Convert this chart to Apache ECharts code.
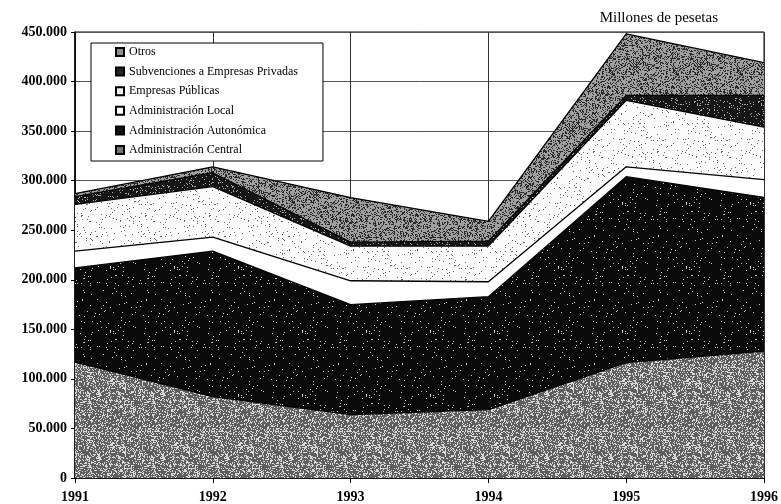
<!DOCTYPE html>
<html>
<head>
<meta charset="utf-8">
<script src="https://cdn.jsdelivr.net/npm/echarts@6/dist/echarts.min.js"></script>
<style>
  html, body { margin: 0; padding: 0; background: #fff; }
  #chart { width: 781px; height: 504px; }
</style>
</head>
<body>
<div id="chart"></div>
<script>
// años y valores (millones de pesetas), apilados
const years = ['1991', '1992', '1993', '1994', '1995', '1996'];
const central = [117000, 82000, 64000, 69000, 116500, 128000];
const autonomica = [95000, 147000, 111000, 114000, 187500, 155000];
const local = [17000, 14000, 24000, 15000, 10000, 18000];
const empresasPublicas = [47000, 51000, 35000, 36000, 67000, 53000];
const subvenciones = [8000, 14000, 4000, 5000, 5000, 32000];
const otros = [3000, 6000, 45000, 20000, 62000, 33000];

const font = '"Liberation Serif", "Times New Roman", serif';

// trama de puntos fija (imita el sombreado de la impresión)
function speckle(base, dot, every, seed) {
    const c = document.createElement('canvas');
    c.width = 64; c.height = 64;
    const ctx = c.getContext('2d');
    ctx.fillStyle = base;
    ctx.fillRect(0, 0, 64, 64);
    ctx.fillStyle = dot;
    let h = seed;
    for (let i = 0; i < 64 * 64; i++) {
        h = (h * 1103515245 + 12345) & 0x7fffffff;
        if ((h >> 16) % every === 0) ctx.fillRect(i % 64, Math.floor(i / 64), 1, 1);
    }
    return { image: c, repeat: 'repeat' };
}

function areaSeries(name, data, fill, pattern) {
    return {
        name: name,
        type: 'line',
        stack: 'total',
        data: data,
        symbol: 'none',
        lineStyle: { color: '#000', width: 1.3 },
        itemStyle: { color: fill, borderColor: '#000', borderWidth: 1 },
        areaStyle: { color: pattern || fill, opacity: 1 }
    };
}

const chart = echarts.init(document.getElementById('chart'));
const option = {
    animation: false,
    backgroundColor: '#fff',
    title: {
        text: 'Millones de pesetas',
        right: 58,
        top: 6,
        textStyle: { fontFamily: font, fontSize: 15, fontWeight: 'normal', color: '#000' }
    },
    grid: {
        left: 75, right: 16, top: 32, bottom: 25,
        show: true, borderColor: '#000', borderWidth: 1
    },
    legend: {
        orient: 'vertical',
        left: 91,
        top: 43,
        padding: [3, 25, 5, 24],
        backgroundColor: '#fff',
        borderColor: '#000',
        borderWidth: 1,
        itemWidth: 8,
        itemHeight: 8,
        itemGap: 7.6,
        icon: 'rect',
        textStyle: { fontFamily: font, fontSize: 12, color: '#000', lineHeight: 12 },
        data: ['Otros', 'Subvenciones a Empresas Privadas', 'Empresas Públicas',
               'Administración Local', 'Administración Autonómica', 'Administración Central']
    },
    xAxis: {
        type: 'category',
        data: years,
        boundaryGap: false,
        axisLine: { lineStyle: { color: '#000', width: 1.5 } },
        axisTick: { show: true, length: 5, lineStyle: { color: '#000' } },
        axisLabel: { fontFamily: font, fontSize: 14, fontWeight: 'bold', color: '#000', margin: 12 },
        splitLine: { show: true, lineStyle: { color: '#333', width: 1 } }
    },
    yAxis: {
        type: 'value',
        min: 0,
        max: 450000,
        interval: 50000,
        axisLine: { show: true, lineStyle: { color: '#000', width: 1.5 } },
        axisTick: { show: true, length: 4, lineStyle: { color: '#000' } },
        axisLabel: {
            fontFamily: font, fontSize: 14, fontWeight: 'bold', color: '#000', margin: 8,
            formatter: v => String(v).replace(/\B(?=(\d{3})+(?!\d))/g, '.')
        },
        splitLine: { show: true, lineStyle: { color: '#555', width: 1 } }
    },
    series: [
        areaSeries('Administración Central', central, '#747474', speckle('#5e5e5e', '#d8d8d8', 3, 7)),
        areaSeries('Administración Autonómica', autonomica, '#141414', speckle('#0a0a0a', '#cccccc', 40, 11)),
        areaSeries('Administración Local', local, '#ffffff'),
        areaSeries('Empresas Públicas', empresasPublicas, '#ececec', speckle('#fbfbfb', '#666666', 25, 5)),
        areaSeries('Subvenciones a Empresas Privadas', subvenciones, '#262626', speckle('#161616', '#aaaaaa', 10, 3)),
        areaSeries('Otros', otros, '#8e8e8e', speckle('#a0a0a0', '#2a2a2a', 3, 13))
    ]
};
chart.setOption(option);
</script>
</body>
</html>
